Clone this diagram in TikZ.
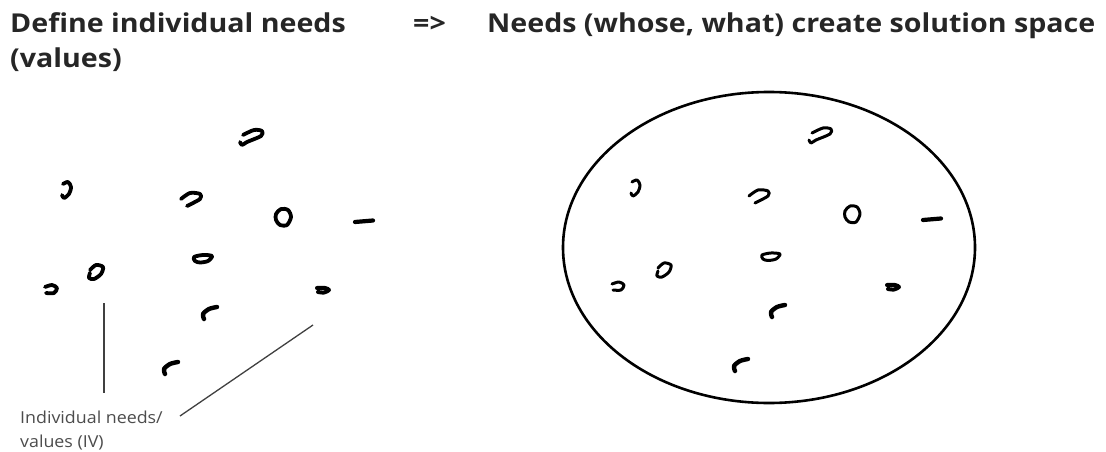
\documentclass[tikz,border=0pt]{standalone}
\usepackage{fontspec}
\setmainfont{Open Sans}
\newfontfamily\wideopen[FakeStretch=1.1]{Open Sans}
\newfontfamily\lblopen[FakeStretch=1.08]{Open Sans}
\usetikzlibrary{shapes.geometric}
\begin{document}
\begin{tikzpicture}[x=1pt,y=-1pt]
\tikzset{
  squig/.style={line width=3.8pt, line cap=round, line join=round, black},
  title/.style={anchor=base west, inner sep=0pt, font=\wideopen\fontsize{26}{35}\selectfont\bfseries, text=black!85},
  lbl/.style={anchor=base west, inner sep=0pt, align=left, font=\lblopen\fontsize{16.5}{24}\selectfont, text=black!70},
  leader/.style={draw=black!75, line width=1.3pt},
  pics/sqA/.style={code={\draw[squig] plot[smooth] coordinates {(-8,-3)(3,-8)(11,-7)(10,-2)(-4,4)(-9,7)(-11,4)};}},
  pics/sqB/.style={code={\draw[squig] plot[smooth] coordinates {(-4,-6)(1,-8)(4,-3)(2,4)(-3,8)(-5,5)};}},
  pics/sqC/.style={code={\draw[squig] plot[smooth] coordinates {(-10,-1)(-1,-7)(9,-6)(9,-1)(-4,6)};}},
  pics/sqO/.style={code={\draw[squig] plot[smooth cycle] coordinates {(-7,-3)(-2,-8)(5,-7)(8,0)(4,8)(-3,8)(-7,3)};}},
  pics/sqD/.style={code={\draw[squig, line width=4.2pt] (-9,1) -- (9,-0.5);}},
  pics/sqT/.style={code={\draw[squig] plot[smooth cycle] coordinates {(-9,-2)(0,-4)(9,-3)(5,2)(-3,3.5)(-8,2)};}},
  pics/sqL/.style={code={\draw[squig] plot[smooth] coordinates {(-6,-2)(0,-7)(7,-5)(5,2)(-2,7)(-7,6)(-6,1)};}},
  pics/sqS/.style={code={\draw[squig] plot[smooth] coordinates {(-8,-3)(-1,-5)(4,-2)(1,3)(-7,3)};}},
  pics/sqR/.style={code={\draw[squig, line width=4pt] plot[smooth] coordinates {(-6,-2)(2,-2)(6,0)(1,2.5)(-5,2)};}},
  pics/sqF/.style={code={\draw[squig, line width=4.4pt] plot[smooth] coordinates {(-5,6)(-6,1)(0,-4)(8,-6)};}},
}
\useasboundingbox (0,0) rectangle (1106,452);

% titles
\node[title] (t1) at (10,33) {Define individual needs};
\node[title] (t2) at (10,68) {(values)};
\node[title] (arr) at (413,33) {=>};
\node[title] (t3) at (487,33) {Needs (whose, what) create solution space};

% left: individual needs
\pic at (251,138) {sqA};
\pic at (67,190) {sqB};
\pic at (191,200) {sqC};
\pic at (283,217) {sqO};
\pic at (364,221) {sqD};
\pic at (203,259) {sqT};
\pic at (96,272) {sqL};
\pic at (53,290) {sqS};
\pic at (323,290) {sqR};
\pic at (209,313) {sqF};
\pic at (170,368) {sqF};

% label and leaders
\node[lbl] (iv) at (20,447) {Individual needs/\\values (IV)};
\coordinate (v1) at (104,303);
\coordinate (v2) at (104,393);
\coordinate (d1) at (313,325);
\coordinate (d2) at (180,416);
\draw[leader] (v1) -- (v2);
\draw[leader] (d1) -- (d2);

% right: solution space
\node[draw, ellipse, line width=2.6pt, minimum width=412pt, minimum height=311pt, inner sep=0pt] (space) at (769,247.5) {};
\begin{scope}[squig/.append style={line width=3pt}]
\pic at (820,136) {sqA};
\pic at (636,188) {sqB};
\pic at (759,197) {sqC};
\pic at (852,214) {sqO};
\pic at (932,219) {sqD};
\pic at (771,257) {sqT};
\pic at (664,270) {sqL};
\pic at (620,287) {sqS};
\pic at (893,287) {sqR};
\pic at (777,311) {sqF};
\pic at (740,365) {sqF};
\end{scope}
\end{tikzpicture}
\end{document}
